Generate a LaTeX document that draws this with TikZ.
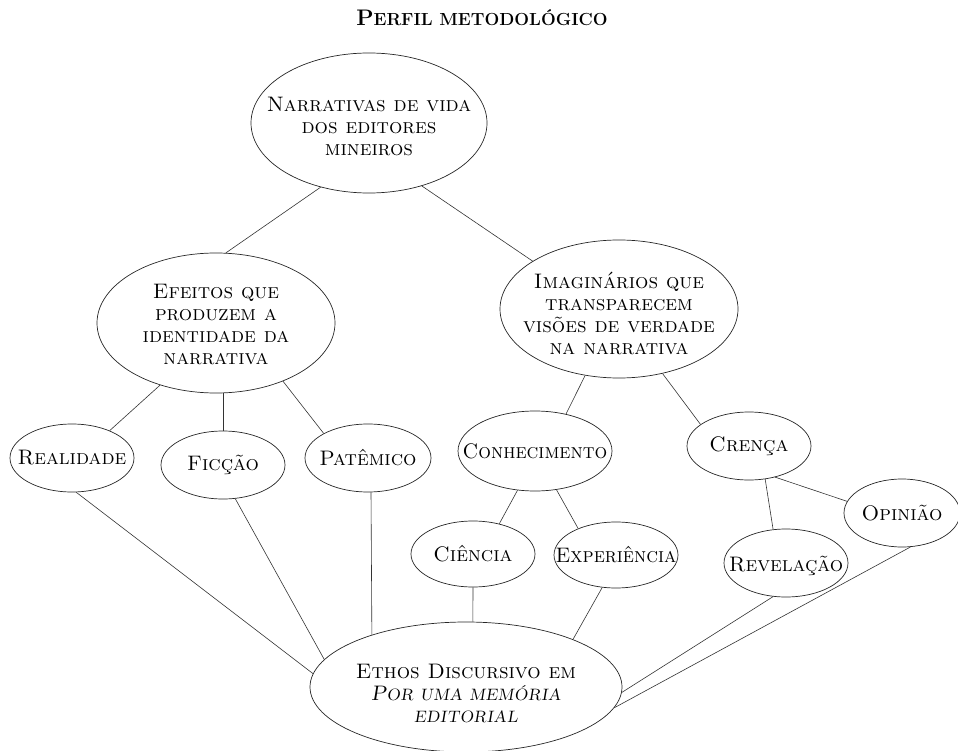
\documentclass[tikz,border=0pt]{standalone}
\usepackage{tikz}
\usetikzlibrary{shapes.geometric}
\newcommand\itsc[2]{\textit{#1{\fontsize{16.5}{22}\selectfont #2}}}
\newcommand\bfsc[2]{\textbf{#1{\fontsize{17.5}{22}\selectfont #2}}}
\tikzset{
  ell/.style={ellipse, draw=black!85, line width=0.7pt, inner sep=0pt},
  txt/.style={align=center, inner sep=0pt, font=\fontsize{21}{22}\selectfont\scshape},
  link/.style={draw=black!80, line width=0.6pt},
}
\begin{document}
\begin{tikzpicture}[x=1pt,y=-1pt]
\useasboundingbox (0,0) rectangle (958,751);
% title
\node[inner sep=0pt, font=\fontsize{22.5}{24}\selectfont] (title) at (482,18) {\bfsc{P}{ERFIL METODOLÓGICO}};
% ellipses
\node[ell, minimum width=236, minimum height=140] (N) at (369,123) {};
\node[ell, minimum width=238, minimum height=140] (E) at (216,323) {};
\node[ell, minimum width=238, minimum height=138] (I) at (619,309) {};
\node[ell, minimum width=124, minimum height=68] (R) at (72,458) {};
\node[ell, minimum width=124, minimum height=68] (F) at (223,465) {};
\node[ell, minimum width=126, minimum height=68] (P) at (368,458) {};
\node[ell, minimum width=154, minimum height=80] (C) at (535,451) {};
\node[ell, minimum width=124, minimum height=68] (Cr) at (749,446) {};
\node[ell, minimum width=124, minimum height=66] (Ci) at (473,554) {};
\node[ell, minimum width=124, minimum height=66] (Ex) at (616,555) {};
\node[ell, minimum width=124, minimum height=68] (Rv) at (786,563) {};
\node[ell, minimum width=116, minimum height=68] (O) at (902,513) {};
\node[ell, minimum width=312, minimum height=130] (Eth) at (466,687) {};
% texts
\node[txt] (Nt) at (369,126) {Narrativas de vida\\dos editores\\mineiros};
\node[txt] (Et) at (216,325) {Efeitos que\\produzem a\\identidade da\\narrativa};
\node[txt] (It) at (619,313) {Imaginários que\\transparecem\\visões de verdade\\na narrativa};
\node[txt] (Rt) at (72,458) {Realidade};
\node[txt] (Ft) at (223,465) {Ficção};
\node[txt] (Pt) at (368,458) {Patêmico};
\node[txt] (Ct) at (535,451) {\scalebox{0.95}[1]{Conhecimento}};
\node[txt] (Crt) at (749,446) {Crença};
\node[txt] (Cit) at (473,554) {Ciência};
\node[txt] (Ext) at (616,555) {\scalebox{0.95}[1]{Experiência}};
\node[txt] (Rvt) at (786,566) {Revelação};
\node[txt] (Ot) at (902,513) {Opinião};
\node[txt] (Etht) at (466,694) {Ethos Discursivo em\\\itsc{P}{OR UMA MEMÓRIA}\\\itsc{}{EDITORIAL}};
% connectors
\draw[link] (N.233.7) -- (E.82.7);
\draw[link] (N.-50) -- (I.151.6);
\draw[link] (E.228.8) -- (R.36.4);
\draw[link] (F.north) -- (F.north |- E.south);
\draw[link] (E.-41.8) -- (P.151);
\draw[link] (I.243.4) -- (C.50.8);
\draw[link] (I.-56.3) -- (Cr.156.7);
\draw[link] (C.246) -- (Ci.49.8);
\draw[link] (C.-61.8) -- (Ex.145);
\draw[link] (Cr.-64.8) -- (Rv.111.5);
\draw[link] (Cr.-50) -- (O.168.5);
\draw[link] (R.-83.7) -- (Eth.175.5);
\draw[link] (F.-70.6) -- (Eth.169);
\draw[link] (P.-85) -- (Eth.151.3);
\draw[link] (Ci.south) -- (Eth.84);
\draw[link] (Ex.247) -- (Eth.24.2);
\draw[link] (Rv.249) -- (Eth.-2.2);
\draw[link] (O.-76.8) -- (Eth.-8.9);
\end{tikzpicture}
\end{document}
